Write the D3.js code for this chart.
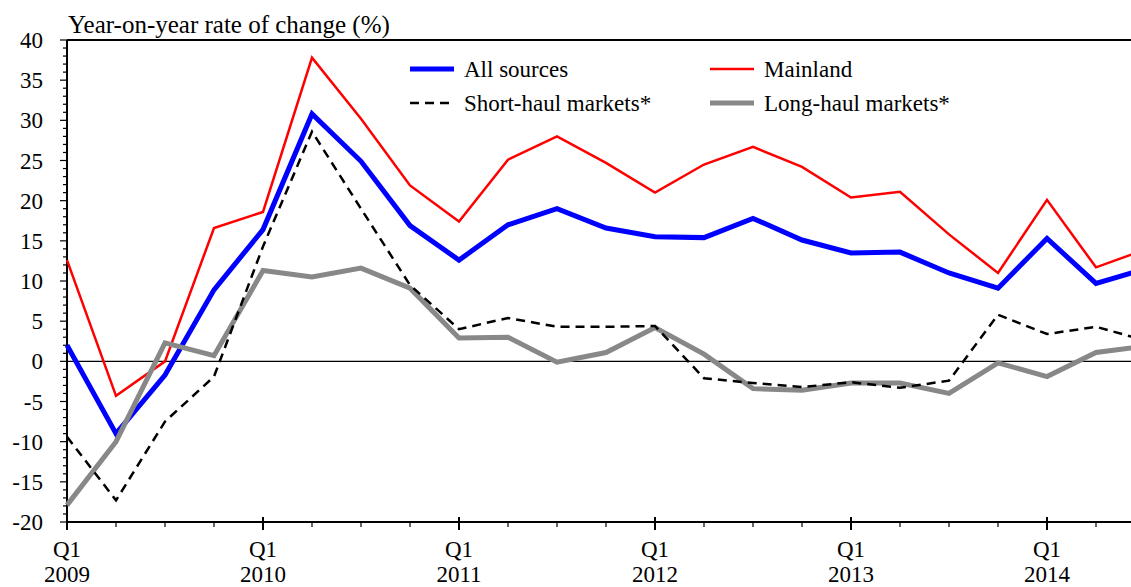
<!DOCTYPE html>
<html>
<head>
<meta charset="utf-8">
<script src="https://cdn.jsdelivr.net/npm/d3@7"></script>
<style>
  body { margin: 0; background: #fff; }
  svg text { font-family: 'Liberation Serif', 'Times New Roman', Times, 'DejaVu Serif', serif; }
</style>
</head>
<body>
<script>
const width = 1131;
const height = 587;

// quarters from Q1 2009 to Q3 2014
const quarters = [
  "2009Q1", "2009Q2", "2009Q3", "2009Q4",
  "2010Q1", "2010Q2", "2010Q3", "2010Q4",
  "2011Q1", "2011Q2", "2011Q3", "2011Q4",
  "2012Q1", "2012Q2", "2012Q3", "2012Q4",
  "2013Q1", "2013Q2", "2013Q3", "2013Q4",
  "2014Q1", "2014Q2", "2014Q3"
];
const years = ["2009", "2010", "2011", "2012", "2013", "2014"];
const yTicks = [-20, -15, -10, -5, 0, 5, 10, 15, 20, 25, 30, 35, 40];

const allSources = [2.0, -9.0, -1.7, 8.9, 16.4, 30.8, 24.9, 16.9, 12.6, 17.0, 19.0, 16.6,
  15.5, 15.4, 17.8, 15.1, 13.5, 13.6, 11.0, 9.1, 15.3, 9.7, 11.5];
const mainland = [12.6, -4.3, 0.0, 16.6, 18.6, 37.8, 30.2, 21.9, 17.4, 25.1, 28.0, 24.7,
  21.0, 24.5, 26.7, 24.2, 20.4, 21.1, 15.8, 11.0, 20.1, 11.7, 13.9];
const shortHaul = [-9.4, -17.3, -7.5, -1.9, 14.3, 28.6, 19.0, 9.5, 4.0, 5.4, 4.3, 4.3,
  4.4, -2.1, -2.7, -3.2, -2.6, -3.3, -2.4, 5.8, 3.4, 4.3, 2.6];
const longHaul = [-17.9, -10.0, 2.3, 0.7, 11.3, 10.5, 11.6, 9.1, 2.9, 3.0, -0.1, 1.1,
  4.2, 0.9, -3.4, -3.6, -2.7, -2.7, -4.0, -0.2, -1.9, 1.1, 1.9];

const series = [
  { name: "Mainland", values: mainland, color: "#ff0000", width: 2.5, dash: null },
  { name: "All sources", values: allSources, color: "#0000ff", width: 5, dash: null },
  { name: "Long-haul markets*", values: longHaul, color: "#888888", width: 5, dash: null },
  { name: "Short-haul markets*", values: shortHaul, color: "#000000", width: 2.5, dash: "9,6" }
];

const margin = { left: 67, top: 40, bottom: 522 };
const font = "'Liberation Serif', 'Times New Roman', 'DejaVu Serif', serif";

const x = d3.scaleLinear().domain([0, 24]).range([margin.left, margin.left + 49 * 24]);
const y = d3.scaleLinear().domain([-20, 40]).range([margin.bottom, margin.top]);

const svg = d3.select('body')
  .append('svg')
  .attr('width', width)
  .attr('height', height)
  .attr('font-family', font);

// frame top line
svg.append('line')
  .attr('x1', x(0)).attr('x2', width)
  .attr('y1', y(40)).attr('y2', y(40))
  .attr('stroke', '#000').attr('stroke-width', 2);

// zero line
svg.append('line')
  .attr('x1', x(0)).attr('x2', width)
  .attr('y1', y(0)).attr('y2', y(0))
  .attr('stroke', '#000').attr('stroke-width', 1.2);

// y axis ticks, every unit, longer at labelled values
const yMinor = d3.range(-20, 41, 1);
svg.append('g')
  .selectAll('line')
  .data(yMinor)
  .join('line')
  .attr('x1', d => d % 5 === 0 ? x(0) - 7 : x(0) - 4)
  .attr('x2', x(0))
  .attr('y1', d => y(d)).attr('y2', d => y(d))
  .attr('stroke', '#000').attr('stroke-width', 1.2);

svg.append('line')
  .attr('x1', x(0)).attr('x2', x(0))
  .attr('y1', y(40)).attr('y2', y(-20))
  .attr('stroke', '#000').attr('stroke-width', 2);

svg.append('g')
  .selectAll('text')
  .data(yTicks)
  .join('text')
  .attr('x', 43)
  .attr('y', d => y(d) + 8)
  .attr('text-anchor', 'end')
  .attr('font-family', font)
  .attr('font-size', 23)
  .text(d => d);

// x axis
svg.append('line')
  .attr('x1', x(0)).attr('x2', width)
  .attr('y1', y(-20)).attr('y2', y(-20))
  .attr('stroke', '#000').attr('stroke-width', 2);

svg.append('g')
  .selectAll('line')
  .data(d3.range(0, 24))
  .join('line')
  .attr('x1', d => x(d)).attr('x2', d => x(d))
  .attr('y1', d => d % 4 === 0 ? y(-20) - 5 : y(-20))
  .attr('y2', d => d % 4 === 0 ? y(-20) + 8 : y(-20) + 5)
  .attr('stroke', '#000')
  .attr('stroke-width', d => d % 4 === 0 ? 2 : 1.2);

const yearLabels = svg.append('g')
  .selectAll('g')
  .data(years)
  .join('g')
  .attr('transform', (d, i) => `translate(${x(i * 4)},0)`);
yearLabels.append('text')
  .attr('y', 557).attr('text-anchor', 'middle')
  .attr('font-family', font).attr('font-size', 23)
  .text('Q1');
yearLabels.append('text')
  .attr('y', 582).attr('text-anchor', 'middle')
  .attr('font-family', font).attr('font-size', 23)
  .text(d => d);

// title
svg.append('text')
  .attr('x', 68).attr('y', 33)
  .attr('font-family', font).attr('font-size', 25)
  .text('Year-on-year rate of change (%)');

// lines
const line = d3.line()
  .x((d, i) => x(i))
  .y(d => y(d));

svg.append('g')
  .selectAll('path')
  .data(series)
  .join('path')
  .attr('d', d => line(d.values))
  .attr('fill', 'none')
  .attr('stroke', d => d.color)
  .attr('stroke-width', d => d.width)
  .attr('stroke-dasharray', d => d.dash)
  .attr('stroke-linejoin', 'miter');

// legend
const legendItems = [
  { s: series[1], lx: 410, ly: 69 },
  { s: series[0], lx: 710, ly: 69 },
  { s: series[3], lx: 410, ly: 103 },
  { s: series[2], lx: 710, ly: 103 }
];
const legend = svg.append('g')
  .selectAll('g')
  .data(legendItems)
  .join('g')
  .attr('transform', d => `translate(${d.lx},${d.ly})`);
legend.append('line')
  .attr('x1', 0).attr('x2', 44)
  .attr('stroke', d => d.s.color)
  .attr('stroke-width', d => d.s.width)
  .attr('stroke-dasharray', d => d.s.dash);
legend.append('text')
  .attr('x', 54).attr('y', 8)
  .attr('font-family', font).attr('font-size', 23)
  .text(d => d.s.name);
</script>
</body>
</html>
